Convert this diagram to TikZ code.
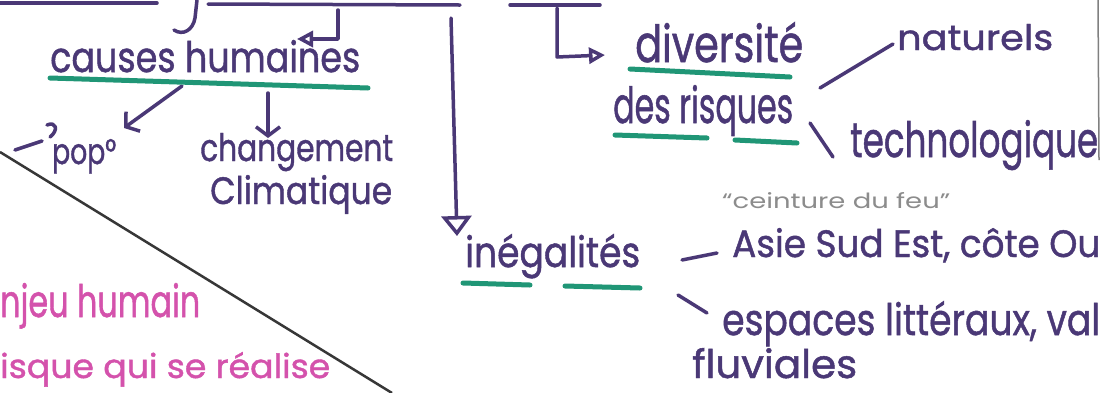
\documentclass[tikz,border=0pt]{standalone}
\usepackage{fontspec}
\setmainfont{Poppins}[FakeBold=1.2]
\newfontfamily\pencilfont{Poppins}
\usetikzlibrary{arrows.meta}
\definecolor{ink}{RGB}{74,56,118}
\definecolor{hl}{RGB}{32,150,118}
\definecolor{pinkink}{RGB}{212,82,172}
\definecolor{pencil}{RGB}{140,140,140}
\definecolor{rulegray}{RGB}{55,55,55}
\tikzset{
  hw/.style={text=ink, inner sep=0pt, anchor=base west},
  pk/.style={text=pinkink, inner sep=0pt, anchor=base west},
  pc/.style={text=pencil, inner sep=0pt, anchor=base west, font=\pencilfont},
  pen/.style={draw=ink, line width=3.5pt, line cap=round, line join=round},
  under/.style={draw=hl, line width=5pt, line cap=round},
  tri/.style={-{Triangle[open, length=16pt, width=16pt, line width=3.5pt]}},
  barb/.style={-{Straight Barb[length=9pt, width=24pt, line width=3.5pt]}},
}
\newcommand\fitwh[3]{\resizebox{#1pt}{#2pt}{#3}}
\begin{document}
\begin{tikzpicture}[x=1pt,y=-1pt]
\useasboundingbox (0,0) rectangle (1102,392);
\fill[white] (0,0) rectangle (1102,392);

% texts
\node[hw] (causes) at (50,72) {\fitwh{310}{32}{causes humaines}};
\node[hw] (pop) at (52,164) {\fitwh{64}{25}{pop°}};
\node[hw] (chg) at (200,161) {\fitwh{193}{28}{changement}};
\node[hw] (clim) at (210,204) {\fitwh{182}{29}{Climatique}};
\node[hw] (div) at (635,62) {\fitwh{168}{40}{diversité}};
\node[hw] (risq) at (613,123) {\fitwh{180}{38}{des risques}};
\node[hw] (nat) at (897,50) {\fitwh{156}{26}{naturels}};
\node[hw] (tech) at (850,157) {\fitwh{248}{37}{technologique}};
\node[pc] (feu) at (722,208) {\fitwh{228}{16}{“ceinture du feu”}};
\node[hw] (asie) at (732,257) {\fitwh{368}{29}{Asie Sud Est, côte Ou}};
\node[hw] (esp) at (722,335) {\fitwh{378}{34}{espaces littéraux, val}};
\node[hw] (flu) at (692,378) {\fitwh{165}{30}{fluviales}};
\node[hw] (ineg) at (465,267) {\fitwh{175}{33}{inégalités}};
\node[pk] (enjeu) at (0,317) {\fitwh{200}{34}{njeu humain}};
\node[pk] (risque) at (0,378) {\fitwh{330}{26}{isque qui se réalise}};

% coordinates
\coordinate (l1a) at (0,3);   \coordinate (l1b) at (157,3);
\coordinate (bra) at (197,0); \coordinate (brb) at (195,18); \coordinate (brc) at (174,30);
\coordinate (l2a) at (208,4); \coordinate (l2b) at (460,5);
\coordinate (l3a) at (510,5); \coordinate (l3b) at (600,5);
\coordinate (a1s) at (338,10); \coordinate (a1m) at (338,39); \coordinate (a1e) at (297,39);
\coordinate (a2s) at (557,8);  \coordinate (a2m) at (557,57); \coordinate (a2e) at (605,55);
\coordinate (a3s) at (451,18); \coordinate (a3e) at (457,236);
\coordinate (b1s) at (182,86); \coordinate (b1e) at (124,128);
\coordinate (b2s) at (268,93); \coordinate (b2e) at (268,138);
\coordinate (p1) at (15,150); \coordinate (p2) at (42,141);
\coordinate (h1) at (47,125); \coordinate (h2) at (50,137);
\coordinate (n1) at (820,88); \coordinate (n2) at (893,44);
\coordinate (t1) at (810,123); \coordinate (t2) at (833,157);
\coordinate (s1) at (682,260); \coordinate (s2) at (717,253);
\coordinate (e1) at (678,295); \coordinate (e2) at (707,313);
\coordinate (d1) at (0,152); \coordinate (d2) at (392,393);
\coordinate (v1) at (1098,0); \coordinate (v2) at (1099,160);

% lines
\draw[pen] (l1a) -- (l1b);
\draw[pen] (bra) -- (brb) .. controls (193,30) and (183,36) .. (brc);
\draw[pen] (l2a) -- (l2b);
\draw[pen] (l3a) -- (l3b);
\draw[pen,tri] (a1s) -- (a1m) -- (a1e);
\draw[pen,tri] (a2s) -- (a2m) -- (a2e);
\draw[pen,-{Triangle[open, length=20pt, width=30pt, line width=3.5pt]}] (a3s) -- (a3e);
\draw[pen,barb] (b1s) -- (b1e);
\draw[pen,barb] (b2s) -- (b2e);
\draw[pen] (p1) -- (p2);
\draw[pen] (h1) .. controls (56,121) and (59,130) .. (h2);
\draw[pen] (n1) -- (n2);
\draw[pen] (t1) -- (t2);
\draw[pen] (s1) -- (s2);
\draw[pen] (e1) -- (e2);
\draw[draw=rulegray, line width=2.5pt] (d1) -- (d2);
\draw[draw=gray, line width=1.5pt] (v1) -- (v2);

% underlines
\draw[under] (50,78) -- (368,88);
\draw[under] (630,69) -- (790,77);
\draw[under] (615,135) -- (707,138);
\draw[under] (735,140) -- (797,143);
\draw[under] (463,283) -- (530,285);
\draw[under] (565,286) -- (640,288);
\end{tikzpicture}
\end{document}
